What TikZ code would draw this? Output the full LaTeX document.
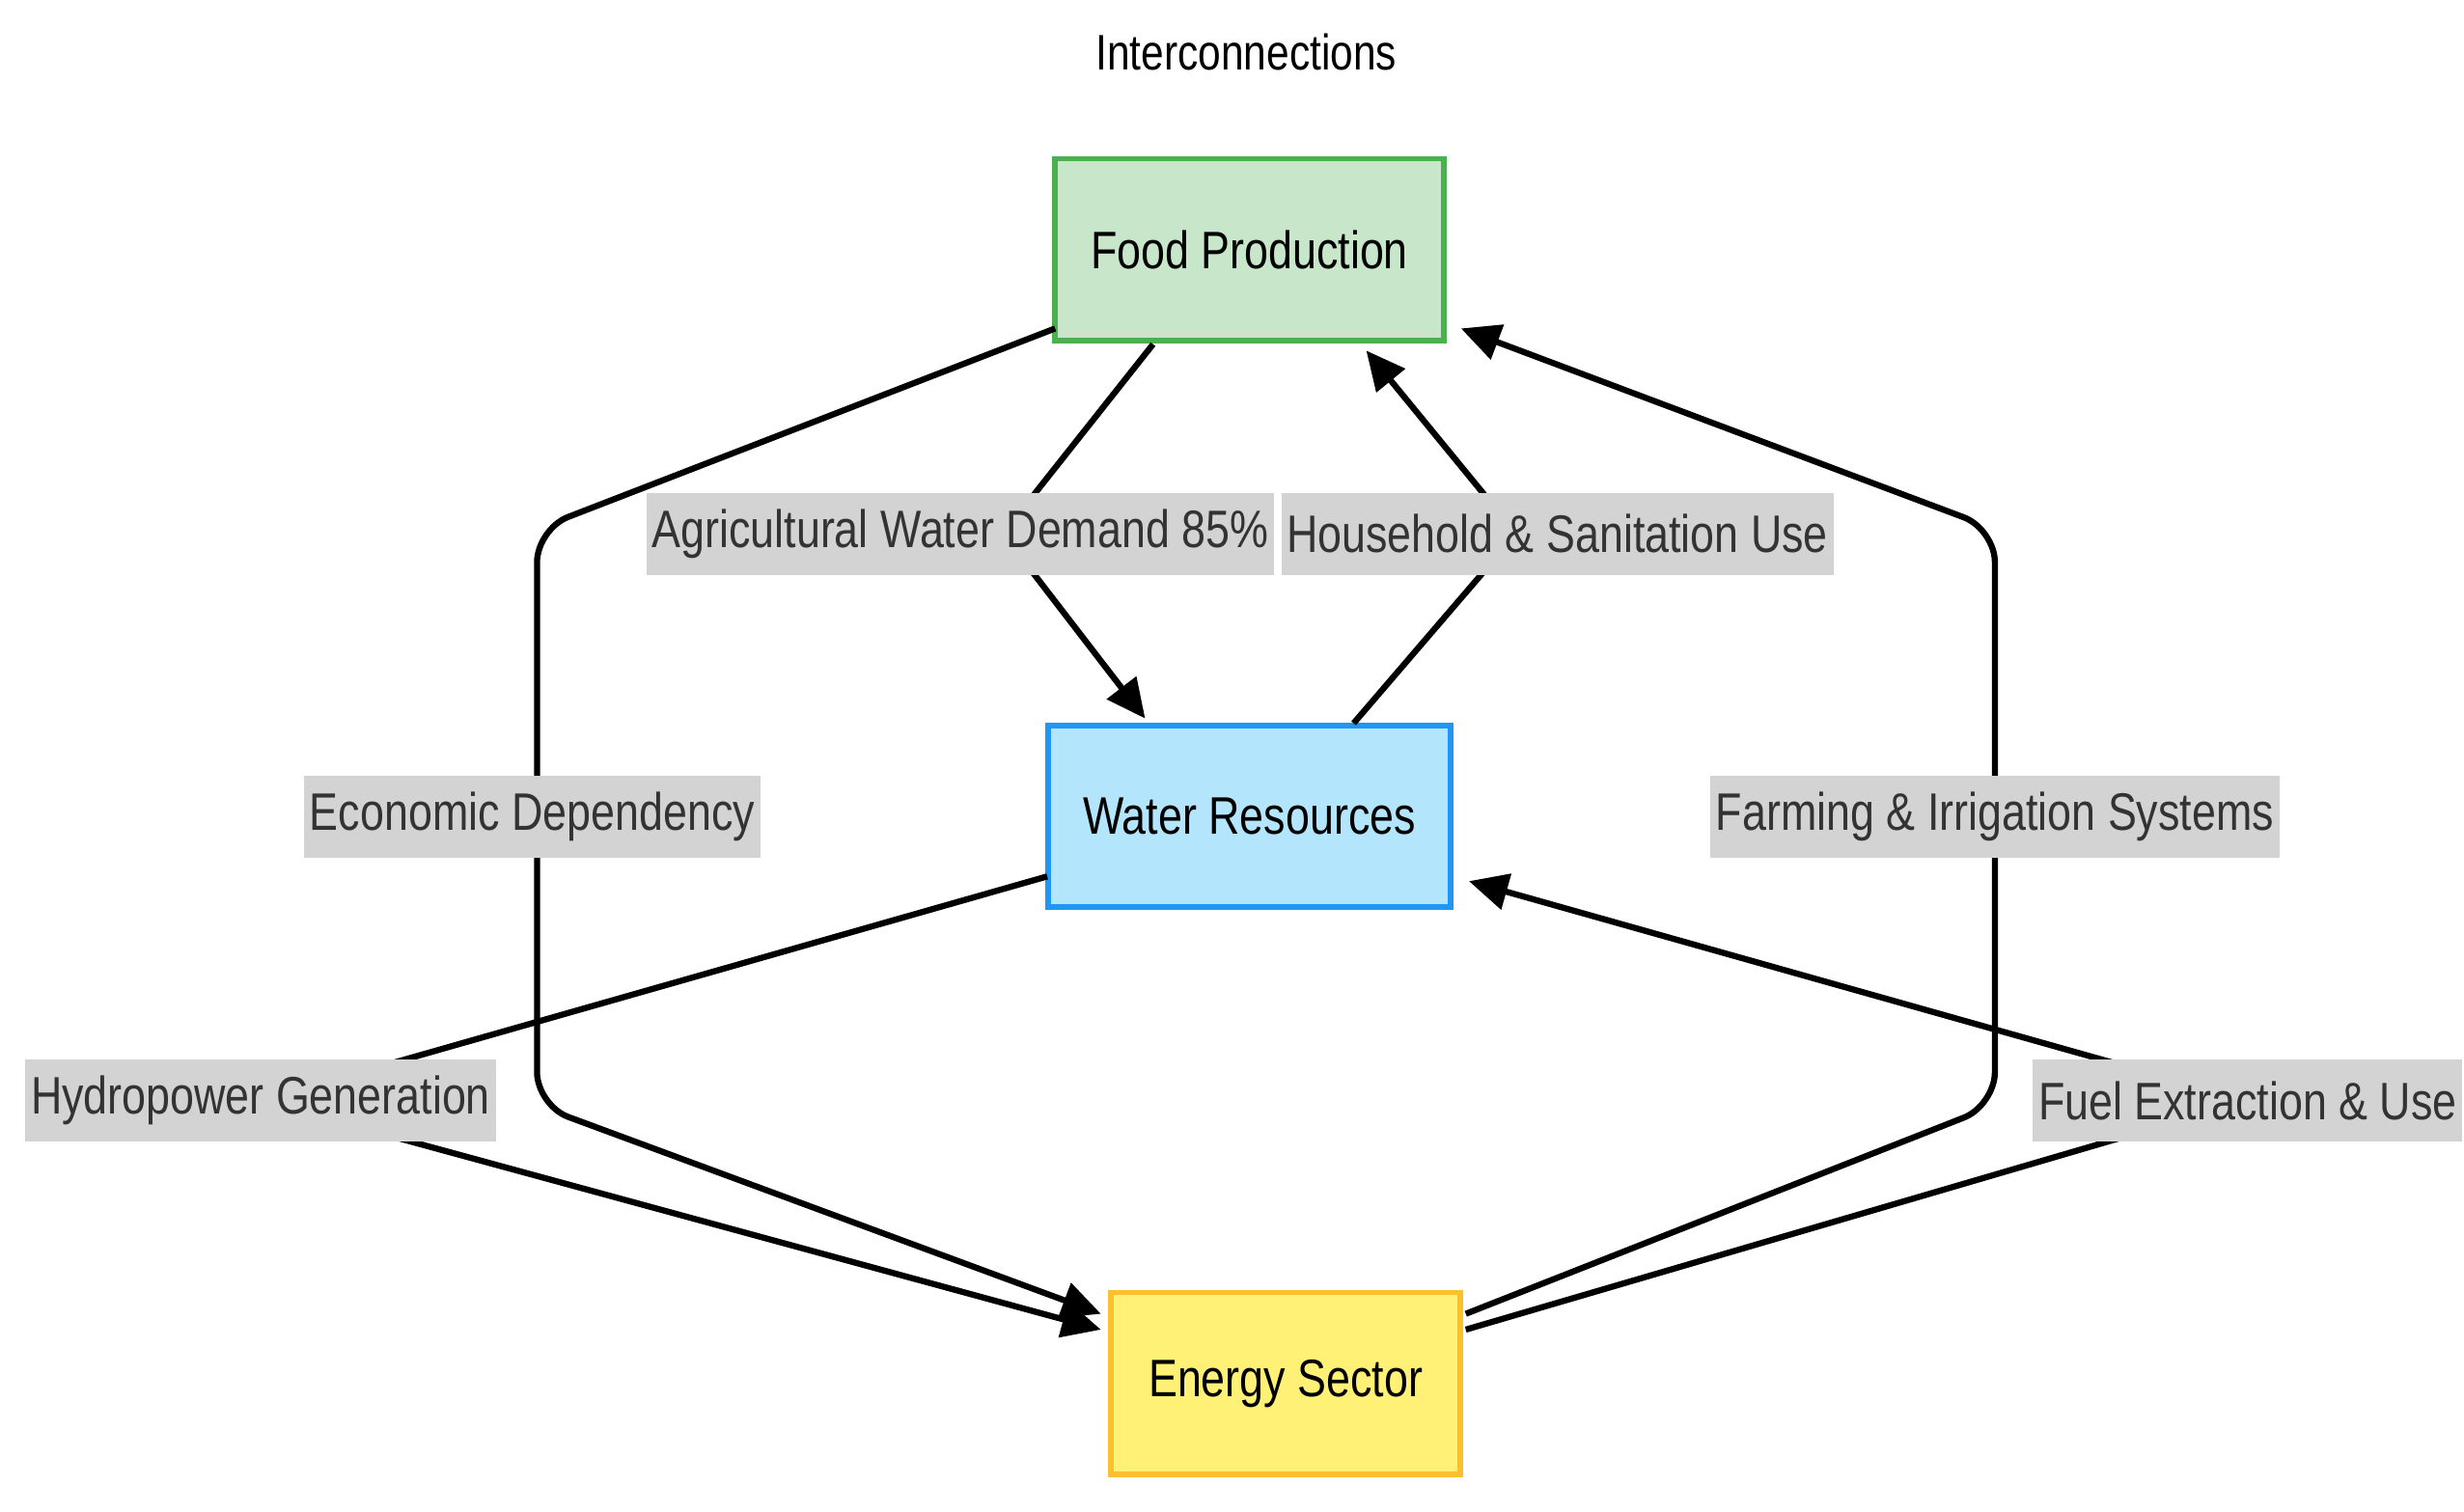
\documentclass[tikz,border=0pt]{standalone}
\usepackage{fontspec}
\setmainfont{Liberation Sans}[FakeStretch=0.82]
\usetikzlibrary{arrows.meta}
\definecolor{fgreen}{HTML}{C8E6C9}\definecolor{bgreen}{HTML}{4CAF50}
\definecolor{fblue}{HTML}{B3E5FC}\definecolor{bblue}{HTML}{2196F3}
\definecolor{fyel}{HTML}{FFF176}\definecolor{byel}{HTML}{FBC02D}
\definecolor{lgray}{HTML}{D3D3D3}\definecolor{tgray}{HTML}{333333}
\begin{document}
\begin{tikzpicture}[x=0.01cm,y=-0.01cm,
 box/.style={draw,line width=1pt,minimum width=246*0.01cm,minimum height=115*0.01cm,font=\fontsize{9.5}{11}\selectfont},
 lab/.style={fill=lgray,text=tgray,inner sep=1pt,minimum height=52*0.01cm,font=\fontsize{9.5}{11}\selectfont},
 edge/.style={line width=1.1pt,rounded corners=6pt},
 arr/.style={edge,-{Triangle[length=7pt,width=6.5pt]}}]
\useasboundingbox (0,0) rectangle (1560,957);
\node[font=\fontsize{9}{11}\selectfont] (title) at (789,33) {Interconnections};
\node[box,fill=fgreen,draw=bgreen] (food) at (791,158) {Food Production};
\node[box,fill=fblue,draw=bblue,minimum width=255*0.01cm] (water) at (791,517) {Water Resources};
\node[box,fill=fyel,draw=byel,minimum width=221*0.01cm] (energy) at (814,876) {Energy Sector};
% edges
\coordinate (a1) at (730,218); \coordinate (a2) at (635,338); \coordinate (a3) at (725,455);
\draw[arr] (a1) -- (a2) -- (a3);
\coordinate (h1) at (857,458); \coordinate (h2) at (960,338); \coordinate (h3) at (865,222);
\draw[arr] (h1) -- (h2) -- (h3);
\coordinate (e1) at (668,208); \coordinate (e2) at (340,335); \coordinate (e3) at (340,700); \coordinate (e4) at (697,832);
\draw[arr] (e1) -- (e2) -- (e3) -- (e4);
\coordinate (f1) at (928,832); \coordinate (f2) at (1263,700); \coordinate (f3) at (1263,335); \coordinate (f4) at (925,208);
\draw[arr] (f1) -- (f2) -- (f3) -- (f4);
\coordinate (w1) at (663,555); \coordinate (w2) at (165,697); \coordinate (w3) at (697,842);
\draw[arr] (w1) -- (w2) -- (w3);
\coordinate (u1) at (928,842); \coordinate (u2) at (1423,697); \coordinate (u3) at (930,558);
\draw[arr] (u1) -- (u2) -- (u3);
% labels
\node[lab] (la) at (608,338) {Agricultural Water Demand 85\%};
\node[lab] (lh) at (986,338) {Household \& Sanitation Use};
\node[lab] (le) at (337,517) {Economic Dependency};
\node[lab] (lf) at (1263,517) {Farming \& Irrigation Systems};
\node[lab] (lw) at (165,697) {Hydropower Generation};
\node[lab] (lu) at (1423,697) {Fuel Extraction \& Use};
\end{tikzpicture}
\end{document}
